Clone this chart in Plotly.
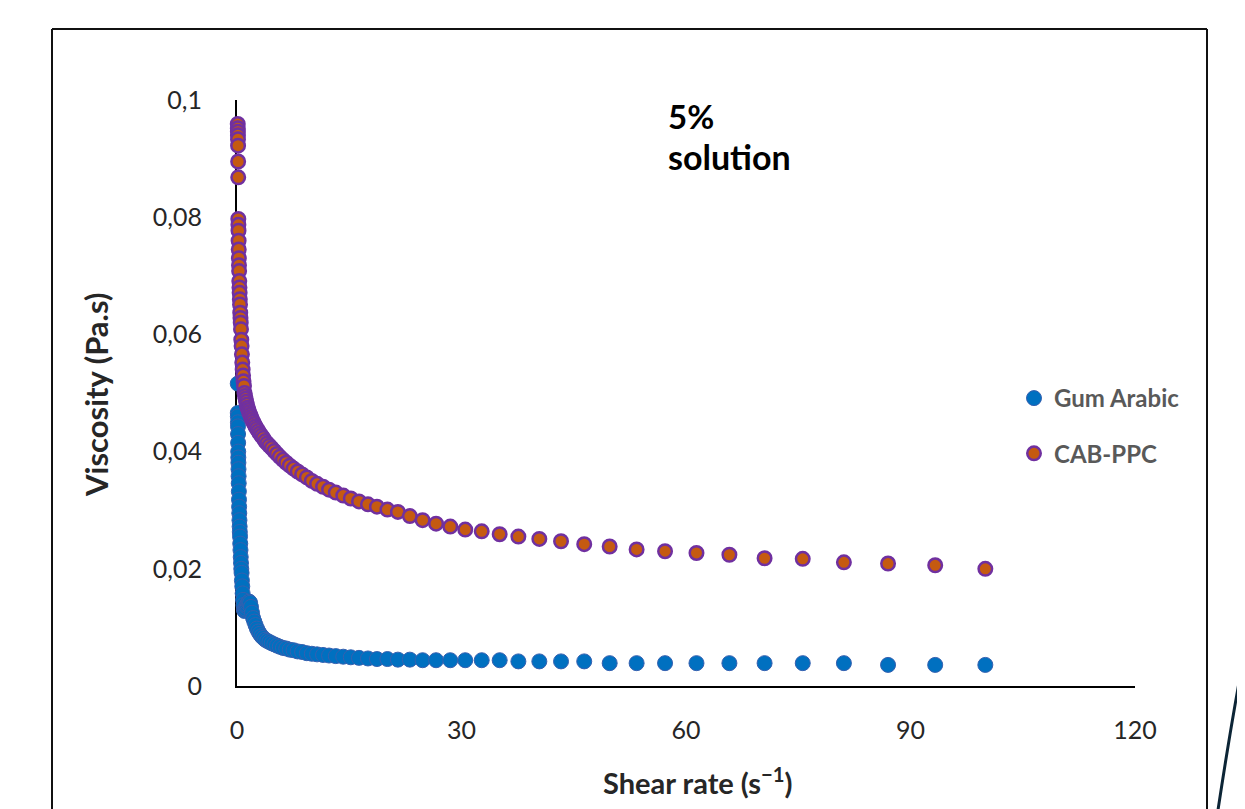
import plotly.graph_objects as go

# ---------------- data ----------------
shear_rate = [
    0.1, 0.107, 0.115, 0.123, 0.132, 0.142, 0.152, 0.163, 0.175, 0.187, 0.201,
    0.215, 0.231, 0.248, 0.266, 0.285, 0.305, 0.327, 0.351, 0.376, 0.404, 0.433,
    0.464, 0.498, 0.534, 0.572, 0.614, 0.658, 0.705, 0.756, 0.811, 0.870, 0.933,
    1.00, 1.07, 1.15, 1.23, 1.32, 1.42, 1.52, 1.63, 1.75, 1.87, 2.01,
    2.15, 2.31, 2.48, 2.66, 2.85, 3.05, 3.27, 3.51, 3.76, 4.04, 4.33,
    4.64, 4.98, 5.34, 5.72, 6.14, 6.58, 7.05, 7.56, 8.11, 8.70, 9.33,
    10.0, 10.7, 11.5, 12.3, 13.2, 14.2, 15.2, 16.3, 17.5, 18.7, 20.1,
    21.5, 23.1, 24.8, 26.6, 28.5, 30.5, 32.7, 35.1, 37.6, 40.4, 43.3,
    46.4, 49.8, 53.4, 57.2, 61.4, 65.8, 70.5, 75.6, 81.1, 87.0, 93.3,
    100.0,
]

gum_arabic = [
    0.0516, 0.0466, 0.0460, 0.0450, 0.0443, 0.0430, 0.0415, 0.0400, 0.0390, 0.0381, 0.0370,
    0.0358, 0.0346, 0.0332, 0.0318, 0.0306, 0.0295, 0.0283, 0.0272, 0.0263, 0.0255, 0.0243,
    0.0232, 0.0220, 0.0210, 0.0200, 0.0193, 0.0180, 0.0170, 0.0158, 0.0147, 0.0138, 0.0130,
    0.0128, 0.0130, 0.0132, 0.0136, 0.0138, 0.0141, 0.0143, 0.0144, 0.0142, 0.0135, 0.0125,
    0.0116, 0.0110, 0.0104, 0.0098, 0.0093, 0.0089, 0.0085, 0.0082, 0.0079, 0.0077, 0.0075,
    0.0073, 0.0071, 0.0069, 0.0067, 0.0065, 0.0064, 0.0062, 0.0061, 0.0059, 0.0058, 0.0056,
    0.0055, 0.0054, 0.0053, 0.0052, 0.0051, 0.0050, 0.0049, 0.0048, 0.0047, 0.0046, 0.0046,
    0.0045, 0.0045, 0.0044, 0.0044, 0.0044, 0.0044, 0.0044, 0.0044, 0.0042, 0.0042, 0.0042,
    0.0042, 0.0039, 0.0039, 0.0039, 0.0039, 0.0039, 0.0039, 0.0039, 0.0039, 0.0036, 0.0036,
    0.0036,
]

cab_ppc = [
    0.0959, 0.0952, 0.0946, 0.0940, 0.0933, 0.0922, 0.0895, 0.0868, 0.0797, 0.0787, 0.0777,
    0.0760, 0.0745, 0.0730, 0.0718, 0.0708, 0.0691, 0.0680, 0.0671, 0.0660, 0.0651, 0.0637,
    0.0628, 0.0620, 0.0609, 0.0591, 0.0580, 0.0566, 0.0552, 0.0540, 0.0530, 0.0520, 0.0512,
    0.0500, 0.0495, 0.0490, 0.0485, 0.0480, 0.0475, 0.0471, 0.0467, 0.0463, 0.0459, 0.0455,
    0.0451, 0.0447, 0.0443, 0.0439, 0.0435, 0.0431, 0.0427, 0.0423, 0.0418, 0.0414, 0.0410,
    0.0406, 0.0401, 0.0396, 0.0391, 0.0386, 0.0381, 0.0376, 0.0371, 0.0366, 0.0361, 0.0356,
    0.0350, 0.0345, 0.0340, 0.0335, 0.0330, 0.0325, 0.0320, 0.0315, 0.0310, 0.0306, 0.0301,
    0.0297, 0.0290, 0.0283, 0.0277, 0.0272, 0.0267, 0.0264, 0.0259, 0.0255, 0.0251, 0.0247,
    0.0242, 0.0238, 0.0233, 0.0230, 0.0227, 0.0224, 0.0218, 0.0217, 0.0211, 0.0209, 0.0206,
    0.0200,
]

x_ticks = [0, 30, 60, 90, 120]
x_tick_labels = ["0", "30", "60", "90", "120"]
y_ticks = [0, 0.02, 0.04, 0.06, 0.08, 0.1]
y_tick_labels = ["0", "0,02", "0,04", "0,06", "0,08", "0,1"]

series_names = ["Gum Arabic", "CAB-PPC"]

# ---------------- figure ----------------
FONT = "Lato, 'Open Sans', sans-serif"
OFF = 8                      # page body margin
W, H = 1245 - OFF, 809 - OFF
L, R, T, B = 237 - OFF, 110, 100 - OFF, 123
PW, PH = W - L - R, H - T - B


def px(xp):
    """page pixel x -> paper x"""
    return (xp - OFF - L) / PW


def py(yp):
    """page pixel y -> paper y"""
    return (OFF + H - B - yp) / PH


fig = go.Figure()
fig.add_trace(go.Scatter(
    x=shear_rate, y=gum_arabic, mode="markers", name=series_names[0],
    legendgroup="g1", cliponaxis=False,
    marker=dict(size=15, color="#0070C0", line=dict(color="#3560B0", width=1)),
))
fig.add_trace(go.Scatter(
    x=shear_rate, y=cab_ppc, mode="markers", name=series_names[1],
    legendgroup="g2", cliponaxis=False,
    marker=dict(size=13.5, color="#C55A11", line=dict(color="#7030A0", width=2.5)),
))

fig.update_layout(
    width=W, height=H,
    margin=dict(l=L, r=R, t=T, b=B, pad=0),
    paper_bgcolor="white", plot_bgcolor="white",
    font=dict(family=FONT, color="#262626"),
    showlegend=True,
    legend=dict(
        x=px(1014), y=py(376), xanchor="left", yanchor="top",
        font=dict(family=FONT, size=24, color="#595959", weight="bold"),
        tracegroupgap=21, bgcolor="rgba(0,0,0,0)", borderwidth=0,
        itemwidth=30,
    ),
    xaxis=dict(
        range=[0, 120], tickvals=x_ticks, ticktext=x_tick_labels,
        showline=True, linecolor="black", linewidth=2, showgrid=False,
        zeroline=False, ticks="", tickfont=dict(size=25, color="#262626"),
        ticklabelstandoff=21, layer="below traces", fixedrange=True,
    ),
    yaxis=dict(
        range=[0, 0.1], tickvals=y_ticks, ticktext=y_tick_labels,
        showline=True, linecolor="black", linewidth=2, showgrid=False,
        zeroline=False, ticks="", tickfont=dict(size=25, color="#262626"),
        ticklabelstandoff=28, layer="below traces", fixedrange=True,
    ),
    annotations=[
        dict(text="Viscosity (Pa.s)", x=px(96), y=py(395), xref="paper", yref="paper",
             textangle=-90, showarrow=False, xanchor="center", yanchor="middle",
             font=dict(family=FONT, size=31, color="#262626", weight="bold")),
        dict(text="Shear rate (s<sup>\u22121</sup>)", x=px(698), y=py(781),
             xref="paper", yref="paper", showarrow=False,
             xanchor="center", yanchor="middle",
             font=dict(family=FONT, size=29, color="#262626", weight="bold")),
        dict(text="5%", x=px(666), y=py(116), xref="paper", yref="paper",
             showarrow=False, xanchor="left", yanchor="middle",
             font=dict(family=FONT, size=33, color="black", weight="bold")),
        dict(text="solution", x=px(666), y=py(156), xref="paper", yref="paper",
             showarrow=False, xanchor="left", yanchor="middle",
             font=dict(family=FONT, size=34, color="black", weight="bold")),
    ],
    shapes=[
        # outer frame (open at the bottom edge of the image)
        dict(type="line", xref="paper", yref="paper", x0=px(52), x1=px(52),
             y0=py(830), y1=py(29), line=dict(color="#111111", width=2)),
        dict(type="line", xref="paper", yref="paper", x0=px(52), x1=px(1207),
             y0=py(29), y1=py(29), line=dict(color="#111111", width=2)),
        dict(type="line", xref="paper", yref="paper", x0=px(1207), x1=px(1207),
             y0=py(830), y1=py(29), line=dict(color="#111111", width=2)),
        # decorative arc at the bottom right
        dict(type="path", xref="paper", yref="paper",
             path="M {:.4f},{:.4f} Q {:.4f},{:.4f} {:.4f},{:.4f}".format(
                 px(1247), py(640), px(1231), py(722), px(1215), py(830)),
             line=dict(color="#0C2536", width=3)),
    ],
)

fig.write_html("out.html")
